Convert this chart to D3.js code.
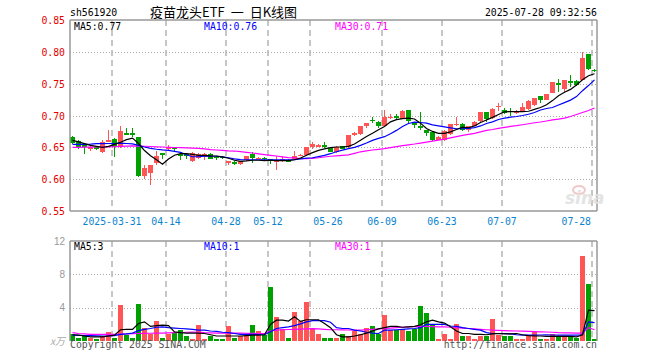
<!DOCTYPE html>
<html>
<head>
<meta charset="utf-8">
<script src="https://cdn.jsdelivr.net/npm/d3@7"></script>
<style>
  body { margin: 0; background: #fff; }
  svg { display: block; }
  .mono { font-family: "DejaVu Sans Mono", "Liberation Mono", monospace; font-size: 9.8px; }
</style>
</head>
<body>
<svg id="chart" width="660" height="360"></svg>
<script>
// trading days shown on the chart
const dates = [
  '2025-03-20','2025-03-21','2025-03-24','2025-03-25','2025-03-26','2025-03-27','2025-03-28','2025-03-31',
  '2025-04-01','2025-04-02','2025-04-03','2025-04-07','2025-04-08','2025-04-09','2025-04-10','2025-04-11',
  '2025-04-14','2025-04-15','2025-04-16','2025-04-17','2025-04-18','2025-04-21','2025-04-22','2025-04-23',
  '2025-04-24','2025-04-25','2025-04-28','2025-04-29','2025-04-30',
  '2025-05-06','2025-05-07','2025-05-08','2025-05-09','2025-05-12','2025-05-13','2025-05-14','2025-05-15',
  '2025-05-16','2025-05-19','2025-05-20','2025-05-21','2025-05-22','2025-05-23','2025-05-26','2025-05-27',
  '2025-05-28','2025-05-29','2025-05-30',
  '2025-06-03','2025-06-04','2025-06-05','2025-06-06','2025-06-09','2025-06-10','2025-06-11','2025-06-12',
  '2025-06-13','2025-06-16','2025-06-17','2025-06-18','2025-06-19','2025-06-20','2025-06-23','2025-06-24',
  '2025-06-25','2025-06-26','2025-06-27','2025-06-30',
  '2025-07-01','2025-07-02','2025-07-03','2025-07-04','2025-07-07','2025-07-08','2025-07-09','2025-07-10',
  '2025-07-11','2025-07-14','2025-07-15','2025-07-16','2025-07-17','2025-07-18','2025-07-21','2025-07-22',
  '2025-07-23','2025-07-24','2025-07-25','2025-07-28'
];

const open = [
  .666,.660,.653,.649,.650,.642,.659,.663,.650,.672,
  .672,.666,.605,.610,.626,.641,.647,.649,.640,.640,
  .628,.634,.635,.639,.6355,.635,.628,.627,.624,.630,
  .639,.633,.634,.631,.628,.630,.630,.631,.638,.6375,
  .650,.653,.653,.649,.642,.6515,.650,.669,.671,.6835,
  .693,.690,.683,.697,.6985,.695,.708,.688,.683,.677,
  .674,.662,.661,.671,.686,.687,.677,.684,.691,.705,
  .696,.714,.7085,.7075,.706,.706,.710,.716,.730,.725,
  .736,.751,.742,.754,.754,.756,.796,.772
];
const high = [
  .668,.661,.655,.652,.651,.662,.678,.664,.683,.680,
  .681,.667,.623,.623,.645,.641,.653,.650,.641,.641,
  .642,.641,.641,.641,.637,.636,.629,.628,.629,.637,
  .642,.635,.635,.632,.637,.637,.631,.644,.640,.651,
  .659,.656,.659,.650,.652,.652,.669,.674,.683,.689,
  .698,.691,.708,.703,.702,.708,.709,.690,.705,.678,
  .675,.668,.677,.687,.697,.688,.684,.691,.706,.706,
  .711,.719,.712,.712,.709,.720,.724,.728,.731,.734,
  .753,.757,.756,.764,.755,.800,.797,.773
];
const low = [
  .656,.648,.640,.645,.646,.641,.658,.635,.649,.670,
  .667,.603,.601,.591,.622,.631,.646,.645,.630,.632,
  .627,.632,.630,.631,.630,.631,.622,.622,.622,.629,
  .626,.632,.630,.624,.615,.627,.627,.630,.636,.637,
  .648,.650,.649,.642,.641,.647,.649,.668,.669,.680,
  .689,.681,.682,.694,.695,.694,.6875,.681,.678,.668,
  .660,.661,.660,.670,.684,.676,.674,.683,.690,.690,
  .695,.707,.702,.700,.702,.705,.709,.715,.720,.724,
  .735,.737,.735,.745,.746,.755,.771,.768
];
const close = [
  .657,.650,.650,.650,.648,.658,.662,.650,.675,.671,
  .671,.605,.617,.622,.637,.640,.650,.647,.636,.636,
  .641,.640,.640,.632,.6345,.634,.6285,.624,.628,.636,
  .633,.634,.631,.630,.629,.631,.628,.6365,.6385,.650,
  .655,.6535,.652,.643,.650,.648,.669,.672,.683,.688,
  .692,.683,.697,.698,.697,.707,.692,.687,.682,.673,
  .661,.667,.676,.687,.687,.678,.683,.690,.705,.695,
  .710,.7155,.704,.7065,.7065,.713,.723,.727,.725,.733,
  .752,.750,.755,.753,.748,.791,.773,.771
];

// moving averages as drawn in the picture
const ma5 = [
  .661,.6586,.6558,.653,.6516,.650,.6516,.6547,.658,.662,
  .6645,.656,.645,.6367,.6305,.6234,.6316,.6375,.640,.640,
  .639,.6375,.6375,.6367,.6364,.635,.6328,.6297,.628,.6286,
  .6297,.6297,.6292,.6297,.629,.629,.629,.6305,.633,.6375,
  .6417,.6453,.6477,.6495,.6505,.6505,.6516,.6552,.661,.667,
  .672,.6777,.6828,.690,.6934,.695,.6958,.6945,.688,.6797,
  .675,.672,.672,.6742,.678,.6817,.6808,.6836,.689,.693,
  .697,.7016,.7058,.706,.706,.706,.7067,.7097,.7125,.717,
  .7234,.731,.7364,.741,.748,.756,.7625,.7656
];
const ma10 = [
  .6547,.6547,.6547,.655,.6558,.6558,.656,.656,.6567,.656,
  .6555,.653,.6505,.6484,.647,.646,.6453,.6437,.642,.6383,
  .6352,.6352,.636,.636,.636,.635,.6336,.632,.6308,.6305,
  .6305,.6305,.6305,.6305,.6305,.6305,.6305,.6305,.6317,.633,
  .6336,.6355,.6375,.640,.643,.6455,.648,.650,.653,.6567,
  .661,.664,.6667,.6714,.6766,.6828,.6875,.6895,.689,.688,
  .6852,.6836,.682,.6805,.6792,.6792,.6797,.681,.6836,.6875,
  .690,.6937,.696,.6973,.6984,.700,.702,.7047,.7086,.711,
  .7125,.7164,.7203,.7242,.7297,.739,.747,.756
];
const ma30 = [
  .6500,.6500,.6502,.6503,.6505,.6505,.6508,.6510,.6515,.6520,
  .6522,.6520,.6517,.6513,.6508,.6505,.6500,.6497,.6495,.6490,
  .6487,.6484,.6475,.6464,.6458,.6453,.6445,.6442,.6433,.6422,
  .6411,.6398,.6386,.6375,.6364,.6350,.6339,.6333,.6323,.6323,
  .6328,.6336,.6348,.6360,.6367,.6375,.6383,.6406,.6430,.6445,
  .6458,.6469,.6480,.6495,.6511,.6527,.6540,.6552,.6567,.6583,
  .6597,.6613,.6628,.6648,.6667,.6688,.6703,.6719,.6742,.6766,
  .6780,.6797,.6813,.6828,.6840,.6855,.6870,.6886,.6898,.6914,
  .6930,.6942,.6960,.6984,.7016,.7047,.7078,.7117
];

// volume, in 万
const volume = [
  .8,.4,.6,.35,.2,.65,1.05,.4,4.3,.7,
  .35,4.4,1.55,.9,2.35,.35,.8,1.0,1.35,.55,
  .3,1.9,.25,.65,.3,.25,1.75,.35,.65,.75,
  1.9,1.15,.7,6.45,2.85,1.4,.4,3.45,2.35,4.65,
  1.5,.9,.35,.35,.35,.8,.55,1.2,.9,1.55,
  1.75,.9,3.1,1.3,1.3,1.5,1.15,1.5,4.15,3.35,
  1.9,.2,.8,.25,2.1,.55,.55,.2,.55,.55,
  2.6,.7,.55,.55,.3,.3,.65,1.05,.3,.2,
  .8,.6,.6,.65,.35,10.2,6.8,.3
];
const vma5 = [
  .75,.7,.6,.5,.5,.5,.6,.7,1.35,1.4,
  1.4,2.1,2.3,1.75,1.85,1.9,1.85,1.1,1.0,.95,
  .95,.95,.9,.75,.6,.6,.6,.6,.6,.65,
  .7,.7,.75,2.0,2.5,2.5,2.4,2.9,2.35,2.55,
  2.55,2.55,2.1,1.6,.75,.5,.5,.6,.75,.95,
  1.2,1.45,1.6,1.75,1.75,1.65,1.7,1.75,1.95,2.3,
  2.5,2.3,2.15,1.7,1.2,.9,.9,.8,.8,.75,
  .85,.9,.85,.85,.9,.75,.65,.6,.6,.55,
  .55,.55,.55,.55,.5,.75,3.7,3.65
];
const vma10 = [
  .7,.68,.66,.64,.62,.6,.6,.65,.8,.85,
  .95,1.25,1.4,1.5,1.65,1.7,1.6,1.55,1.5,1.45,
  1.4,1.3,1.3,1.2,1.15,1.05,1.0,.9,.8,.8,
  .8,.78,.75,1.1,1.5,1.6,1.7,1.85,2.05,2.3,
  2.45,2.45,2.45,2.25,1.6,1.5,1.5,1.3,1.2,1.05,
  .95,.9,1.3,1.3,1.35,1.4,1.45,1.5,1.6,2.0,
  2.0,2.0,2.0,1.8,1.75,1.6,1.5,1.4,1.3,1.0,
  .9,.9,.9,.85,.75,.7,.7,.7,.72,.75,
  .72,.7,.7,.7,.7,.75,2.3,2.2
];
const vma30 = [
  1.0,.9,.85,.8,.8,.8,.8,.8,.82,.85,
  .88,.9,.92,.93,.95,.95,.97,1.0,1.02,1.05,
  1.07,1.05,1.0,.98,.95,.95,.95,.95,.95,.93,
  .92,.9,.9,1.2,1.3,1.35,1.38,1.4,1.42,1.45,
  1.48,1.45,1.4,1.35,1.35,1.33,1.32,1.3,1.3,1.35,
  1.4,1.45,1.5,1.55,1.6,1.65,1.7,1.72,1.75,1.75,
  1.72,1.7,1.7,1.65,1.6,1.55,1.5,1.45,1.4,1.35,
  1.3,1.28,1.25,1.22,1.2,1.18,1.15,1.12,1.1,1.08,
  1.05,1.0,.98,.97,.95,.95,1.6,1.35
];
const volMaLabels = [3, 1, 1];

const labelDates = ['2025-03-31','2025-04-14','2025-04-28','2025-05-12','2025-05-26','2025-06-09','2025-06-23','2025-07-07','2025-07-28'];
const gridDates = ['2025-03-31','2025-04-14','2025-04-28','2025-05-12','2025-05-21','2025-06-09','2025-06-23','2025-07-07','2025-07-28'];
const priceTicks = [0.85, 0.80, 0.75, 0.70, 0.65, 0.60, 0.55];
const volTicks = [12, 8, 4];

const RED = '#ff5555', GREEN = '#00a000', GRID = '#aaa', BORDER = '#999';
const maColors = ['#000', '#0000ff', '#ff00ff'];

const svg = d3.select('#chart');
const left = 70, right = 597;
const pTop = 20, pBottom = 211;
const vTop = 241, vBottom = 341;

const x = d3.scalePoint().domain(dates).range([72, 594]);
const y = d3.scaleLinear().domain([0.55, 0.85]).range([pBottom, pTop]);
const yv = d3.scaleLinear().domain([0, 12]).range([vBottom, vTop]);

const rows = dates.map((d, i) => ({
  date: d, o: open[i], h: high[i], l: low[i], c: close[i], v: volume[i],
  up: close[i] >= open[i]
}));

// header
svg.append('text').attr('class', 'mono').attr('x', 70).attr('y', 16).text('sh561920');
const title = svg.append('text').attr('x', 150).attr('y', 17)
  .style('font-family', '"Noto Sans CJK SC", sans-serif').style('font-size', '13px');
title.append('tspan').text('疫苗龙头ETF');
title.append('tspan').attr('dx', 6).text('一');
title.append('tspan').attr('dx', 6).text('日K线图');
svg.append('text').attr('class', 'mono').attr('x', right).attr('y', 16)
  .attr('text-anchor', 'end').text('2025-07-28 09:32:56');

// grids
function hGrid(ticks, scale) {
  svg.append('g').selectAll('line').data(ticks).join('line')
    .attr('x1', left).attr('x2', right)
    .attr('y1', d => Math.round(scale(d)) + 0.5).attr('y2', d => Math.round(scale(d)) + 0.5)
    .attr('stroke', GRID).attr('stroke-dasharray', '1,2');
}
hGrid(priceTicks.slice(1, -1), y);
hGrid(volTicks.slice(1), yv);

function vGrid(top, bottom) {
  svg.append('g').selectAll('line').data(gridDates).join('line')
    .attr('x1', d => x(d) - 2).attr('x2', d => x(d) - 2)
    .attr('y1', top).attr('y2', bottom)
    .attr('stroke', '#b4b4b4').attr('stroke-width', 1.5).attr('stroke-dasharray', '6,4');
}
vGrid(pTop, pBottom);
vGrid(vTop, vBottom);

// candles
const candles = svg.append('g').attr('shape-rendering', 'crispEdges');
candles.selectAll('line').data(rows).join('line')
  .attr('x1', d => x(d.date) + 0.5).attr('x2', d => x(d.date) + 0.5)
  .attr('y1', d => y(d.h)).attr('y2', d => y(d.l))
  .attr('stroke', d => d.up ? RED : GREEN);
candles.selectAll('rect').data(rows).join('rect')
  .attr('x', d => x(d.date) - 2).attr('width', 5)
  .attr('y', d => y(Math.max(d.o, d.c)))
  .attr('height', d => Math.max(1.5, Math.abs(y(d.o) - y(d.c))))
  .attr('fill', d => d.up ? RED : GREEN);

// volume bars
svg.append('g').attr('shape-rendering', 'crispEdges')
  .selectAll('rect').data(rows).join('rect')
  .attr('x', d => x(d.date) - 2).attr('width', 5)
  .attr('y', d => yv(d.v)).attr('height', d => vBottom - yv(d.v))
  .attr('fill', d => d.up ? RED : GREEN);

// moving average lines
function maLine(values, scale, color) {
  const line = d3.line().x((d, i) => x(dates[i]) + 0.5).y(d => scale(d));
  svg.append('path').datum(values).attr('d', line)
    .attr('fill', 'none').attr('stroke', color).attr('stroke-width', 1.2);
}
[ma30, ma10, ma5].forEach((m, k) => maLine(m, y, maColors[2 - k]));
[vma30, vma10, vma5].forEach((m, k) => maLine(m, yv, maColors[2 - k]));

// borders
function frame(top, bottom, withBottom) {
  const g = svg.append('g').attr('stroke', BORDER).attr('stroke-width', 1.5).attr('fill', 'none');
  g.append('line').attr('x1', left).attr('x2', right).attr('y1', top).attr('y2', top);
  g.append('line').attr('x1', left).attr('x2', left).attr('y1', top).attr('y2', bottom);
  g.append('line').attr('x1', right).attr('x2', right).attr('y1', top).attr('y2', bottom);
  if (withBottom) g.append('line').attr('x1', left).attr('x2', right).attr('y1', bottom).attr('y2', bottom);
}
frame(pTop, pBottom, true);
frame(vTop, vBottom, false);

// price axis labels
svg.append('g').selectAll('text').data(priceTicks).join('text')
  .attr('class', 'mono').attr('x', 65).attr('y', d => y(d) + 4)
  .attr('text-anchor', 'end').attr('fill', '#e60000')
  .text(d3.format('.2f'));

// volume axis labels
svg.append('g').selectAll('text').data(volTicks).join('text')
  .attr('x', 65).attr('y', d => yv(d) + 3.5).attr('text-anchor', 'end')
  .attr('fill', '#999').style('font-family', '"Liberation Sans", sans-serif').style('font-size', '10px')
  .text(d => d);
svg.append('text').attr('x', 65).attr('y', 345).attr('text-anchor', 'end')
  .attr('fill', '#aaa').style('font-family', '"Noto Sans CJK SC", sans-serif').style('font-size', '10px')
  .style('font-style', 'italic').text('x万');

// date labels
const last = labelDates[labelDates.length - 1];
svg.append('g').selectAll('text').data(labelDates).join('text')
  .attr('class', 'mono').attr('fill', '#0a84d0')
  .attr('x', d => d === last ? x(d) - 3 : x(d) - 2).attr('y', 225)
  .attr('text-anchor', d => d === last ? 'end' : 'middle')
  .text((d, i) => i === 0 ? d : d.slice(5));

// MA legends
const maNames = ['MA5', 'MA10', 'MA30'];
const legendX = [74, 204, 335];
[ma5, ma10, ma30].forEach((m, k) => {
  svg.append('text').attr('class', 'mono').attr('x', legendX[k]).attr('y', 30)
    .attr('fill', maColors[k]).text(`${maNames[k]}:${m[m.length - 1].toFixed(2)}`);
});
volMaLabels.forEach((v, k) => {
  svg.append('text').attr('class', 'mono').attr('x', legendX[k]).attr('y', 250)
    .attr('fill', maColors[k]).text(`${maNames[k]}:${v}`);
});

// watermark
const wm = svg.append('g').attr('opacity', 0.9);
wm.append('ellipse').attr('cx', 579).attr('cy', 190).attr('rx', 6).attr('ry', 4)
  .attr('fill', 'none').attr('stroke', '#f0c4c4').attr('stroke-width', 2);
wm.append('text').attr('x', 565).attr('y', 204)
  .style('font-family', '"DejaVu Sans", sans-serif').style('font-size', '17px')
  .style('font-weight', 'bold').style('font-style', 'italic')
  .attr('fill', '#e2e2e2').text('sina');

// footer
svg.append('text').attr('class', 'mono').attr('x', 70).attr('y', 348).attr('fill', '#555')
  .text('Copyright 2025 SINA.COM');
svg.append('text').attr('class', 'mono').attr('x', right).attr('y', 348).attr('fill', '#555')
  .attr('text-anchor', 'end').text('http://finance.sina.com.cn');
</script>
</body>
</html>
